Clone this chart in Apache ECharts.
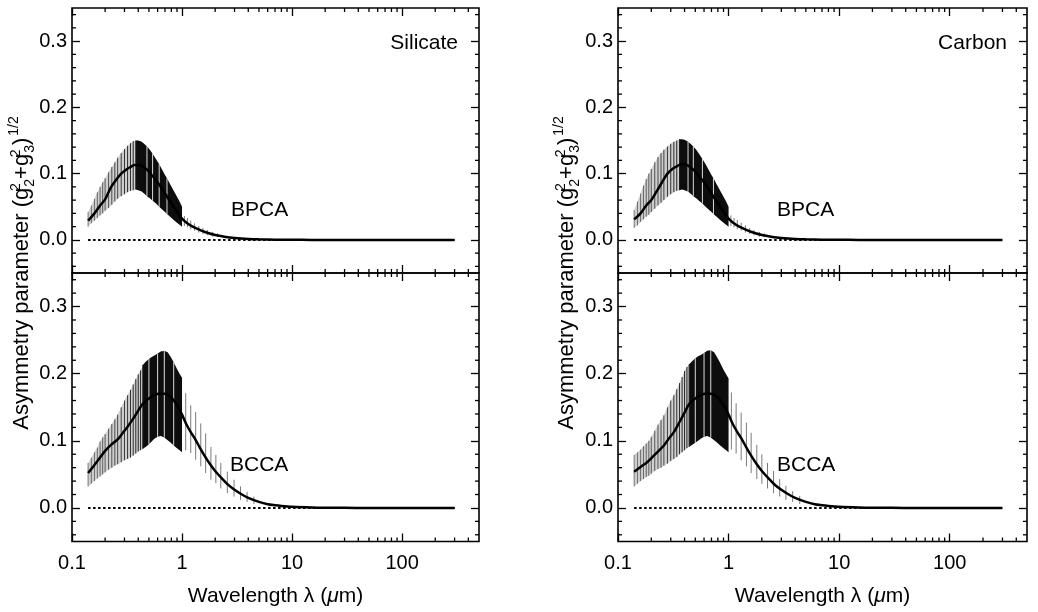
<!DOCTYPE html>
<html><head><meta charset="utf-8">
<script src="https://cdn.jsdelivr.net/npm/echarts@6/dist/echarts.min.js"></script>
<style>html,body{margin:0;padding:0;background:#fff}#c{width:1038px;height:612px}</style>
</head><body><div id="c"></div>
<script>
// ---------- axis ticks ----------
const xMajor = [0.1, 1, 10, 100];
const xTickLabels = ['0.1', '1', '10', '100'];
const xMinor = [0.2,0.3,0.4,0.5,0.6,0.7,0.8,0.9,2,3,4,5,6,7,8,9,20,30,40,50,60,70,80,90,200,300,400];
const yMajor = [0, 0.1, 0.2, 0.3];
const yTickLabels = ['0.0', '0.1', '0.2', '0.3'];
const yMinor = [-0.04,-0.02,0.02,0.04,0.06,0.08,0.12,0.14,0.16,0.18,0.22,0.24,0.26,0.28,0.32,0.34];

// ---------- BPCA (top row) ----------
const bpWl = [0.14,0.15,0.16,0.17,0.18,0.19,0.20,0.215,0.23,0.245,0.26,0.28,0.30,0.32,0.34,0.36,0.38,0.40,0.43,0.46,0.48,0.51,0.54,0.58,0.62,0.66,0.70,0.73,0.78,0.84,0.90,0.95,1.0];
const silBPhi = [0.042,0.052,0.062,0.072,0.080,0.087,0.093,0.102,0.110,0.117,0.124,0.131,0.137,0.142,0.146,0.149,0.150,0.150,0.148,0.144,0.141,0.136,0.130,0.122,0.114,0.106,0.098,0.093,0.084,0.074,0.065,0.058,0.050];
const silBPlo = [0.020,0.025,0.029,0.033,0.037,0.040,0.044,0.048,0.053,0.058,0.062,0.066,0.069,0.072,0.074,0.075,0.076,0.075,0.073,0.069,0.066,0.063,0.059,0.055,0.050,0.046,0.042,0.039,0.035,0.030,0.026,0.023,0.020];
const carBPhi = [0.045,0.058,0.070,0.082,0.092,0.100,0.107,0.117,0.125,0.131,0.136,0.141,0.145,0.148,0.150,0.152,0.152,0.151,0.148,0.144,0.141,0.136,0.130,0.122,0.114,0.106,0.098,0.093,0.084,0.074,0.065,0.058,0.050];
const carBPlo = [0.018,0.022,0.027,0.031,0.035,0.038,0.042,0.047,0.052,0.056,0.060,0.065,0.069,0.072,0.074,0.075,0.076,0.075,0.073,0.069,0.066,0.063,0.059,0.055,0.050,0.046,0.042,0.039,0.035,0.030,0.026,0.023,0.020];
const bpMeanWl = [0.14,0.16,0.18,0.20,0.225,0.25,0.28,0.31,0.34,0.37,0.40,0.44,0.48,0.53,0.58,0.64,0.70,0.78,0.86,0.94,1.0,1.1,1.25,1.5,1.75,2,2.5,3,4,5,7,10,15,20,30,50,100,300];
const silBPmean = [0.029,0.040,0.052,0.061,0.079,0.090,0.100,0.106,0.110,0.113,0.113,0.111,0.106,0.098,0.090,0.080,0.070,0.058,0.047,0.038,0.032,0.026,0.020,0.014,0.010,0.0075,0.0045,0.003,0.0015,0.0008,0.0003,0.0001,0,0,0,0,0,0];
const carBPmean = [0.031,0.040,0.052,0.060,0.074,0.087,0.100,0.107,0.111,0.114,0.114,0.111,0.106,0.098,0.090,0.080,0.070,0.058,0.047,0.038,0.032,0.026,0.020,0.014,0.010,0.0075,0.0045,0.003,0.0015,0.0008,0.0003,0.0001,0,0,0,0,0,0];
const silBPtailWl = [1.05,1.12,1.2,1.3,1.42,1.55,1.7,1.9,2.1];
const silBPtailHi = [0.036,0.033,0.029,0.025,0.021,0.018,0.015,0.012,0.010];
const silBPtailLo = [0.021,0.019,0.016,0.014,0.011,0.009,0.007,0.005,0.004];
const carBPtailWl = [1.05,1.12,1.2,1.3,1.42,1.55,1.7,1.9,2.1];
const carBPtailHi = [0.037,0.033,0.030,0.026,0.022,0.018,0.015,0.012,0.010];
const carBPtailLo = [0.021,0.019,0.016,0.014,0.011,0.009,0.007,0.005,0.004];
const silBPdark = 0.38, carBPdark = 0.36;
const silBPgaps = [0.48,0.54,0.62,0.73];
const carBPgaps = [0.43,0.48,0.58,0.73];

// ---------- BCCA (bottom row) ----------
const bcWl = [0.14,0.15,0.16,0.17,0.18,0.19,0.20,0.215,0.23,0.245,0.26,0.28,0.30,0.32,0.34,0.36,0.38,0.40,0.42,0.44,0.47,0.50,0.53,0.56,0.60,0.64,0.69,0.74,0.79,0.84,0.90,0.95,1.0];
const silBChi = [0.067,0.075,0.083,0.090,0.099,0.105,0.110,0.118,0.125,0.132,0.139,0.150,0.160,0.168,0.176,0.184,0.192,0.199,0.205,0.213,0.218,0.222,0.225,0.227,0.230,0.233,0.234,0.232,0.225,0.217,0.207,0.200,0.194];
const silBClo = [0.032,0.036,0.040,0.044,0.047,0.050,0.053,0.057,0.060,0.063,0.065,0.068,0.071,0.073,0.075,0.078,0.081,0.084,0.086,0.088,0.091,0.095,0.099,0.103,0.106,0.107,0.105,0.101,0.097,0.093,0.089,0.086,0.083];
const carBChi = [0.079,0.083,0.087,0.092,0.096,0.100,0.106,0.115,0.124,0.131,0.138,0.150,0.160,0.168,0.177,0.186,0.195,0.204,0.210,0.214,0.219,0.223,0.226,0.228,0.231,0.234,0.235,0.232,0.224,0.216,0.206,0.199,0.193];
const carBClo = [0.032,0.036,0.040,0.043,0.046,0.048,0.051,0.055,0.058,0.060,0.063,0.066,0.070,0.073,0.076,0.080,0.083,0.086,0.089,0.091,0.094,0.097,0.100,0.103,0.106,0.107,0.105,0.101,0.097,0.093,0.089,0.086,0.083];
const bcMeanWl = [0.14,0.16,0.18,0.20,0.23,0.26,0.29,0.32,0.36,0.40,0.44,0.50,0.56,0.62,0.70,0.78,0.86,0.93,1.0,1.1,1.2,1.3,1.45,1.6,1.8,2.0,2.3,2.6,3.0,3.5,4,5,6,7,8,10,15,20,30,50,100,300];
const silBCmean = [0.052,0.064,0.075,0.085,0.095,0.102,0.112,0.121,0.133,0.145,0.155,0.163,0.168,0.170,0.170,0.166,0.158,0.149,0.139,0.124,0.113,0.104,0.090,0.078,0.065,0.055,0.044,0.035,0.027,0.020,0.015,0.009,0.0055,0.004,0.003,0.0018,0.0007,0.0003,0.0001,0,0,0];
const carBCmean = [0.054,0.061,0.067,0.074,0.084,0.093,0.104,0.113,0.128,0.142,0.155,0.163,0.168,0.170,0.170,0.166,0.158,0.149,0.139,0.124,0.113,0.104,0.090,0.078,0.065,0.055,0.044,0.035,0.027,0.020,0.015,0.009,0.0055,0.004,0.003,0.0018,0.0007,0.0003,0.0001,0,0,0];
const silBCtailWl = [1.08,1.2,1.33,1.48,1.64,1.83,2.03,2.25,2.58,2.97,3.4,3.9,4.5];
const silBCtailHi = [0.171,0.153,0.143,0.126,0.111,0.091,0.079,0.067,0.054,0.042,0.032,0.024,0.017];
const silBCtailLo = [0.086,0.082,0.072,0.062,0.052,0.042,0.037,0.029,0.022,0.017,0.012,0.009,0.006];
const carBCtailWl = [1.06,1.17,1.3,1.45,1.6,1.8,2.0,2.25,2.55,2.9,3.3,3.8,4.4];
const carBCtailHi = [0.172,0.156,0.142,0.127,0.112,0.094,0.080,0.067,0.055,0.043,0.033,0.025,0.018];
const carBCtailLo = [0.087,0.081,0.071,0.062,0.052,0.043,0.036,0.029,0.022,0.017,0.012,0.009,0.006];
const silBCdark = 0.44, carBCdark = 0.44;
const silBCgaps = [0.50,0.60,0.69,0.84];
const carBCgaps = [0.50,0.60,0.69];

const zeroLine = [[0.14, 0], [300, 0]];
const panelLabels = ['Silicate', 'Carbon'];
const rowLabels = ['BPCA', 'BCCA'];

// ---------- layout ----------
const X_MIN = 0.1, X_MAX = 500, Y_MIN = -0.05, Y_MAX = 0.35;
const FONT = '"Liberation Sans", Arial, Helvetica, sans-serif';
const grids = [
  {left: 72, top: 8, width: 407, height: 265},
  {left: 72, top: 273, width: 407, height: 268.5},
  {left: 618, top: 8, width: 409, height: 265},
  {left: 618, top: 273, width: 409, height: 268.5}
];
const panels = [
  {wl: bpWl, lo: silBPlo, hi: silBPhi, mwl: bpMeanWl, m: silBPmean, twl: silBPtailWl, tlo: silBPtailLo, thi: silBPtailHi, dark: silBPdark, gaps: silBPgaps, bottom: false},
  {wl: bcWl, lo: silBClo, hi: silBChi, mwl: bcMeanWl, m: silBCmean, twl: silBCtailWl, tlo: silBCtailLo, thi: silBCtailHi, dark: silBCdark, gaps: silBCgaps, bottom: true},
  {wl: bpWl, lo: carBPlo, hi: carBPhi, mwl: bpMeanWl, m: carBPmean, twl: carBPtailWl, tlo: carBPtailLo, thi: carBPtailHi, dark: carBPdark, gaps: carBPgaps, bottom: false},
  {wl: bcWl, lo: carBClo, hi: carBChi, mwl: bcMeanWl, m: carBCmean, twl: carBCtailWl, tlo: carBCtailLo, thi: carBCtailHi, dark: carBCdark, gaps: carBCgaps, bottom: true}
];

const tickStyle = {color: '#000', width: 1.3};
const xAxes = [], yAxes = [], series = [];
panels.forEach((P, g) => {
  ['bottom', 'top'].forEach(pos => {
    const withLabels = pos === 'bottom' && P.bottom;
    xAxes.push({
      type: 'log', logBase: 10, gridIndex: g, min: X_MIN, max: X_MAX, position: pos,
      axisLine: {show: false, onZero: false}, splitLine: {show: false},
      axisTick: {show: true, inside: true, length: 8, customValues: xMajor, lineStyle: tickStyle},
      axisLabel: {show: withLabels, customValues: xMajor, margin: 12, fontSize: 20, color: '#000', fontFamily: FONT,
        formatter: v => xTickLabels[xMajor.findIndex(t => Math.abs(Math.log10(t) - Math.log10(v)) < 1e-6)]},
      name: withLabels ? '{a|Wavelength λ (}{i|μ}{a|m)}' : '',
      nameLocation: 'middle', nameGap: 44,
      nameTextStyle: {fontSize: 21, color: '#000', fontFamily: FONT,
        rich: {a: {fontSize: 21, color: '#000', fontFamily: FONT}, i: {fontSize: 21, color: '#000', fontFamily: FONT, fontStyle: 'italic'}}}
    });
  });
  ['left', 'right'].forEach(pos => {
    yAxes.push({
      type: 'value', gridIndex: g, min: Y_MIN, max: Y_MAX, position: pos,
      axisLine: {show: false, onZero: false}, splitLine: {show: false},
      axisTick: {show: true, inside: true, length: 8, customValues: yMajor, lineStyle: tickStyle},
      axisLabel: {show: pos === 'left', customValues: yMajor, margin: 5, fontSize: 20, color: '#000', fontFamily: FONT,
        formatter: v => yTickLabels[yMajor.findIndex(t => Math.abs(t - v) < 1e-9)]}
    });
  });
  const xi = 2 * g, yi = 2 * g;
  // band polygons
  series.push({
    type: 'custom', xAxisIndex: xi, yAxisIndex: yi, silent: true, z: 2,
    data: [[P.wl[0], P.lo[0]]], encode: {x: 0, y: 1},
    renderItem: (params, api) => {
      const pts = sel => {
        const up = [], dn = [];
        P.wl.forEach((w, i) => { if (sel(w)) { up.push(api.coord([w, P.hi[i]])); dn.push(api.coord([w, P.lo[i]])); } });
        return up.concat(dn.reverse());
      };
      return {type: 'group', children: [
        {type: 'polygon', shape: {points: pts(w => w <= P.dark)}, style: {fill: '#cfcfcf'}},
        {type: 'polygon', shape: {points: pts(w => w >= P.dark)}, style: {fill: '#0d0d0d'}}
      ]};
    }
  });
  // vertical scatter lines (light region) and gaps (dark region)
  series.push({
    type: 'custom', xAxisIndex: xi, yAxisIndex: yi, silent: true, z: 3,
    data: P.wl.map((w, i) => [w, P.lo[i], P.hi[i]]), encode: {x: 0, y: [1, 2]},
    renderItem: (params, api) => {
      const w = api.value(0);
      const a = api.coord([w, api.value(1)]), b = api.coord([w, api.value(2)]);
      const isGap = P.gaps.indexOf(w) >= 0;
      if (w > P.dark && !isGap) return null;
      let stroke;
      if (isGap) stroke = 'rgba(255,255,255,0.85)';
      else {
        const t = Math.log(w / P.wl[0]) / Math.log(P.dark / P.wl[0]);
        const c = Math.round(120 - 90 * t);
        stroke = 'rgb(' + c + ',' + c + ',' + c + ')';
      }
      return {type: 'line', shape: {x1: a[0], y1: a[1], x2: b[0], y2: b[1]}, style: {stroke: stroke, lineWidth: 1}};
    }
  });
  // sparse tail lines
  series.push({
    type: 'custom', xAxisIndex: xi, yAxisIndex: yi, silent: true, z: 3,
    data: P.twl.map((w, i) => [w, P.tlo[i], P.thi[i]]), encode: {x: 0, y: [1, 2]},
    renderItem: (params, api) => {
      const w = api.value(0);
      const a = api.coord([w, api.value(1)]), b = api.coord([w, api.value(2)]);
      return {type: 'line', shape: {x1: a[0], y1: a[1], x2: b[0], y2: b[1]}, style: {stroke: '#7a7a7a', lineWidth: 1}};
    }
  });
  // dotted zero line
  series.push({
    type: 'line', xAxisIndex: xi, yAxisIndex: yi, data: zeroLine, symbol: 'none', silent: true, z: 4,
    lineStyle: {color: '#000', width: 2, type: [2.5, 2.5]}
  });
  // mean curve
  series.push({
    type: 'line', xAxisIndex: xi, yAxisIndex: yi, data: P.mwl.map((w, i) => [w, P.m[i]]), symbol: 'none',
    smooth: 0.3, silent: true, z: 5, lineStyle: {color: '#000', width: 2.5}
  });
  // minor ticks x (bottom & top)
  series.push({
    type: 'custom', xAxisIndex: xi, yAxisIndex: yi, silent: true, z: 6, clip: false,
    data: xMinor.map(v => [v, 0]), encode: {x: 0, y: 1},
    renderItem: (params, api) => {
      const v = api.value(0);
      const b = api.coord([v, Y_MIN]), t = api.coord([v, Y_MAX]);
      return {type: 'group', children: [
        {type: 'line', shape: {x1: b[0], y1: b[1], x2: b[0], y2: b[1] - 4}, style: {stroke: '#000', lineWidth: 1.3}},
        {type: 'line', shape: {x1: t[0], y1: t[1], x2: t[0], y2: t[1] + 4}, style: {stroke: '#000', lineWidth: 1.3}}
      ]};
    }
  });
  // minor ticks y (left & right)
  series.push({
    type: 'custom', xAxisIndex: xi, yAxisIndex: yi, silent: true, z: 6, clip: false,
    data: yMinor.map(v => [1, v]), encode: {x: 0, y: 1},
    renderItem: (params, api) => {
      const v = api.value(1);
      const l = api.coord([X_MIN, v]), r = api.coord([X_MAX, v]);
      return {type: 'group', children: [
        {type: 'line', shape: {x1: l[0], y1: l[1], x2: l[0] + 4, y2: l[1]}, style: {stroke: '#000', lineWidth: 1.3}},
        {type: 'line', shape: {x1: r[0], y1: r[1], x2: r[0] - 4, y2: r[1]}, style: {stroke: '#000', lineWidth: 1.3}}
      ]};
    }
  });
});

const yTitleRich = {
  a: {fontSize: 22, lineHeight: 30, fontFamily: FONT, fill: '#000', verticalAlign: 'middle'},
  p: {fontSize: 14, lineHeight: 14, fontFamily: FONT, fill: '#000', verticalAlign: 'top', width: 1, padding: [2, 0, 0, 0]},
  b: {fontSize: 14, lineHeight: 14, fontFamily: FONT, fill: '#000', verticalAlign: 'bottom', padding: [0, 0, 0, 0]},
  q: {fontSize: 14, lineHeight: 14, fontFamily: FONT, fill: '#000', verticalAlign: 'top', padding: [0, 0, 0, 2]}
};
const yTitleText = '{a|Asymmetry parameter (g}{p|2}{b|2}{a|+g}{p|2}{b|3}{a|)}{q|1/2}';
const annot = (text, x, y, align) => ({type: 'text', x: x, y: y, silent: true,
  style: {text: text, fill: '#000', font: '21px ' + FONT, align: align, verticalAlign: 'middle'}});

const chart = echarts.init(document.getElementById('c'), null, {renderer: 'canvas'});
chart.setOption({
  animation: false,
  backgroundColor: '#fff',
  textStyle: {fontFamily: FONT},
  grid: grids.map(gr => Object.assign({show: true, borderColor: '#000', borderWidth: 1.6, containLabel: false}, gr)),
  xAxis: xAxes,
  yAxis: yAxes,
  series: series,
  graphic: [
    annot(panelLabels[0], 458, 43, 'right'),
    annot(panelLabels[1], 1007, 43, 'right'),
    annot(rowLabels[0], 231, 210, 'left'),
    annot(rowLabels[0], 777, 210, 'left'),
    annot(rowLabels[1], 230, 465, 'left'),
    annot(rowLabels[1], 777, 465, 'left'),
    {type: 'text', x: 22, y: 273, rotation: Math.PI / 2, silent: true,
      style: {text: yTitleText, rich: yTitleRich, align: 'center', verticalAlign: 'middle', fill: '#000', font: '22px ' + FONT}},
    {type: 'text', x: 567, y: 273, rotation: Math.PI / 2, silent: true,
      style: {text: yTitleText, rich: yTitleRich, align: 'center', verticalAlign: 'middle', fill: '#000', font: '22px ' + FONT}}
  ]
});
</script></body></html>
